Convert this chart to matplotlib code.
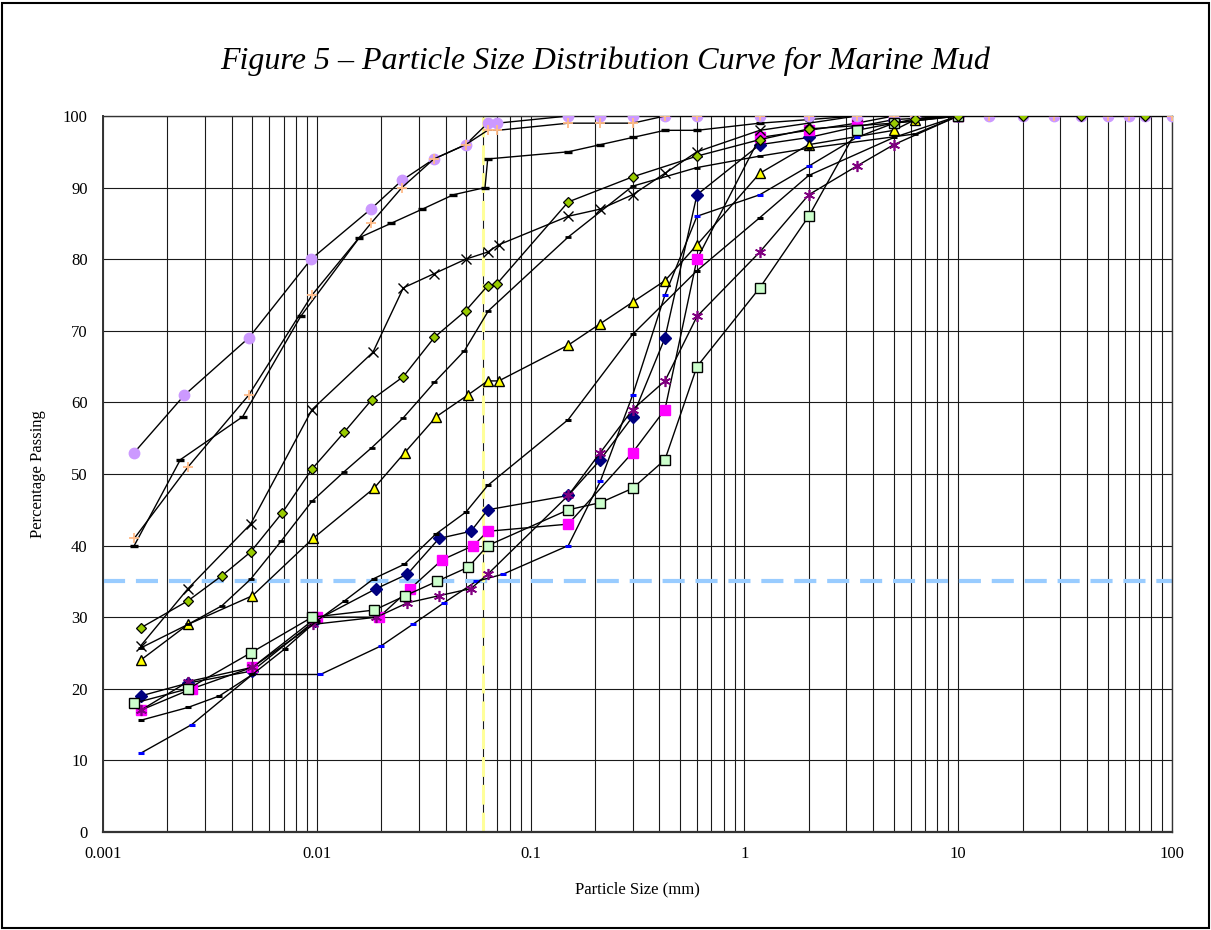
import matplotlib
matplotlib.use("Agg")
import matplotlib.pyplot as plt
from matplotlib.patches import Rectangle
from matplotlib.ticker import LogLocator, FuncFormatter, NullFormatter

plt.rcParams["font.family"] = ["Liberation Serif", "DejaVu Serif"]

# ---- data (size in mm, % passing) ----
tail = [10, 14, 20, 28, 37.5, 50, 63, 75, 100]

lav_x = [0.0014, 0.0024, 0.0048, 0.0094, 0.0179, 0.025, 0.0353, 0.0497, 0.063, 0.07,
         0.15, 0.212, 0.3, 0.425, 0.6, 1.18, 2, 3.35, 5, 6.3] + tail
lav_y = [53, 61, 69, 80, 87, 91, 94, 96, 99, 99,
         100, 100, 100, 100, 100, 100, 100, 100, 100, 100] + [100] * 9

plus_x = [0.0014, 0.0025, 0.0048, 0.0095, 0.0179, 0.025, 0.0353, 0.0497, 0.063, 0.07,
          0.15, 0.212, 0.3, 0.425, 0.6, 1.18, 2, 3.35, 5, 6.3] + tail
plus_y = [41, 51, 61, 75, 85, 90, 94, 96, 98, 98,
          99, 99, 99, 100, 100, 100, 100, 100, 100, 100] + [100] * 9

dashc_x = [0.0014, 0.0023, 0.0045, 0.0084, 0.0158, 0.0222, 0.0312, 0.0435, 0.0612, 0.063,
           0.15, 0.212, 0.3, 0.425, 0.6, 1.18, 2, 3.35, 5, 10]
dashc_y = [40, 52, 58, 72, 83, 85, 87, 89, 90, 94,
           95, 96, 97, 98, 98, 99, 99.5, 100, 100, 100]

xmark_x = [0.0015, 0.0025, 0.0049, 0.0095, 0.0183, 0.0254, 0.0355, 0.0497, 0.063, 0.0708,
           0.15, 0.212, 0.3, 0.425, 0.6, 1.18, 2, 3.35, 5, 10]
xmark_y = [26, 34, 43, 59, 67, 76, 78, 80, 81, 82,
           86, 87, 89, 92, 95, 98, 99, 100, 100, 100]

dashf_x = [0.0015, 0.0025, 0.0036, 0.0049, 0.0068, 0.0095, 0.0134, 0.0181, 0.0253, 0.0355,
           0.049, 0.0635, 0.15, 0.3, 0.6, 1.18, 2, 6.3, 10]
dashf_y = [25.7, 29, 31.6, 35.3, 40.6, 46.2, 50.3, 53.7, 57.8, 62.8,
           67.2, 72.8, 83.1, 90.2, 92.8, 94.4, 95.5, 97.5, 100]

dashg_x = [0.0015, 0.0025, 0.0035, 0.005, 0.0071, 0.01, 0.0135, 0.0185, 0.0257, 0.036,
           0.0499, 0.063, 0.15, 0.3, 0.6, 1.18, 2, 5, 10]
dashg_y = [15.6, 17.4, 19, 22, 25.6, 29.5, 32.3, 35.4, 37.4, 41.6,
           44.7, 48.4, 57.6, 69.5, 78.4, 85.8, 91.7, 97, 100]

blue_x = [0.0015, 0.0026, 0.005, 0.0104, 0.02, 0.0281, 0.0393, 0.0556, 0.0742, 0.15,
          0.212, 0.3, 0.425, 0.6, 1.18, 2, 3.35, 5, 10]
blue_y = [11, 15, 22, 22, 26, 29, 32, 35, 36, 40,
          49, 61, 75, 86, 89, 93, 97, 99, 100]

navy_x = [0.0015, 0.0025, 0.005, 0.0098, 0.019, 0.0265, 0.0373, 0.0526, 0.063, 0.15,
          0.212, 0.3, 0.425, 0.6, 1.18, 2, 3.35, 5, 10]
navy_y = [19, 20.8, 22.5, 29.5, 34, 36, 41, 42, 45, 47,
          52, 58, 69, 89, 96, 97, 98.5, 99.5, 100]

mag_x = [0.0015, 0.0026, 0.005, 0.01, 0.0195, 0.0274, 0.0385, 0.054, 0.063, 0.15,
         0.3, 0.425, 0.6, 1.18, 2, 3.35, 5, 10]
mag_y = [17, 20, 23, 30, 30, 34, 38, 40, 42, 43,
         53, 59, 80, 97, 98, 99, 100, 100]

lgreen_x = [0.0014, 0.0025, 0.0049, 0.0095, 0.0186, 0.0259, 0.0364, 0.0512, 0.063, 0.15,
            0.212, 0.3, 0.425, 0.6, 1.18, 2, 3.35, 5, 10]
lgreen_y = [18, 20, 25, 30, 31, 33, 35, 37, 40, 45,
            46, 48, 52, 65, 76, 86, 98, 99, 100]

star_x = [0.0015, 0.0025, 0.005, 0.0096, 0.019, 0.0265, 0.0373, 0.0526, 0.063, 0.15,
          0.212, 0.3, 0.425, 0.6, 1.18, 2, 3.35, 5, 10]
star_y = [17, 21, 23, 29, 30, 32, 33, 34, 36, 47,
          53, 59, 63, 72, 81, 89, 93, 96, 100]

tri_x = [0.0015, 0.0025, 0.005, 0.0096, 0.0185, 0.0258, 0.0362, 0.0507, 0.063, 0.071,
         0.15, 0.212, 0.3, 0.425, 0.6, 1.18, 2, 5, 6.3, 10]
tri_y = [24, 29, 33, 41, 48, 53, 58, 61, 63, 63,
         68, 71, 74, 77, 82, 92, 96, 98, 99.5, 100]

dia_x = [0.0015, 0.0025, 0.0036, 0.0049, 0.0069, 0.0095, 0.0134, 0.0181, 0.0254, 0.0355,
         0.0497, 0.063, 0.0693, 0.15, 0.3, 0.6, 1.18, 2, 5, 6.3, 10, 20, 37.5, 75]
dia_y = [28.5, 32.3, 35.8, 39.1, 44.6, 50.7, 55.8, 60.4, 63.6, 69.1,
         72.8, 76.3, 76.5, 88, 91.5, 94.4, 96.7, 98.2, 99, 99.6, 100, 100, 100, 100]

fines_limit = 35      # % passing, horizontal reference
silt_size = 0.06      # mm, vertical reference

x_ticks = [0.001, 0.01, 0.1, 1, 10, 100]
y_ticks = list(range(0, 101, 10))

# ---- figure ----
fig = plt.figure(figsize=(12.11, 9.30), dpi=100)
ax = fig.add_axes([103 / 1211, 1 - 832 / 930, (1172 - 103) / 1211, (832 - 116) / 930])

ax.set_xscale("log")
ax.set_xlim(0.001, 100)
ax.set_ylim(0, 100)
ax.set_xticks(x_ticks)
ax.xaxis.set_minor_locator(LogLocator(base=10, subs=range(2, 10)))
ax.xaxis.set_minor_formatter(NullFormatter())
ax.xaxis.set_major_formatter(FuncFormatter(lambda v, p: f"{v:g}"))
ax.set_yticks(y_ticks)
ax.grid(which="both", axis="x", color="#1a1a1a", linewidth=0.8)
ax.grid(which="major", axis="y", color="#1a1a1a", linewidth=0.8)
ax.set_axisbelow(True)
ax.tick_params(axis="x", which="both", length=0, pad=10, labelsize=12)
ax.tick_params(axis="y", which="both", length=0, pad=11, labelsize=12)
for sp in ax.spines.values():
    sp.set_color("#333333")
    sp.set_linewidth(1.0)
ax.spines["bottom"].set_linewidth(1.6)
ax.spines["left"].set_linewidth(1.4)

# reference lines
ax.axhline(fines_limit, color="#99CCFF", linewidth=3, linestyle=(0, (5.3, 2.6)), zorder=1.5)
ax.axvline(silt_size, color="#FFFF99", linewidth=2.2, linestyle=(0, (6.5, 2.6)), zorder=1.5)

line_kw = dict(color="black", linewidth=1.0, zorder=3)

ax.plot(navy_x, navy_y, marker="D", markersize=6, markerfacecolor="#000080",
        markeredgecolor="#000080", **line_kw)
ax.plot(mag_x, mag_y, marker="s", markersize=7.5, markerfacecolor="#FF00FF",
        markeredgecolor="#FF00FF", **line_kw)
ax.plot(tri_x, tri_y, marker="^", markersize=7, markerfacecolor="#FFFF00",
        markeredgecolor="black", markeredgewidth=1.0, **line_kw)
ax.plot(blue_x, blue_y, marker="_", markersize=4, markeredgecolor="#0000FF",
        markeredgewidth=2.2, **line_kw)
ax.plot(star_x, star_y, marker=(6, 2, 0), markersize=8, markeredgecolor="#800080",
        markeredgewidth=1.2, **line_kw)
ax.plot(dashg_x, dashg_y, marker="_", markersize=5, markeredgecolor="black",
        markeredgewidth=2.2, **line_kw)
ax.plot(dashf_x, dashf_y, marker="_", markersize=4, markeredgecolor="black",
        markeredgewidth=2.0, **line_kw)
ax.plot(dashc_x, dashc_y, marker="_", markersize=5.5, markeredgecolor="black",
        markeredgewidth=2.4, **line_kw)
ax.plot(xmark_x, xmark_y, marker="x", markersize=7, markeredgecolor="black",
        markeredgewidth=1.0, **line_kw)
ax.plot(lav_x, lav_y, marker="o", markersize=7.5, markerfacecolor="#CC99FF",
        markeredgecolor="#CC99FF", **line_kw)
ax.plot(plus_x, plus_y, marker="+", markersize=7.5, markeredgecolor="#FFBB88",
        markeredgewidth=1.3, **line_kw)
ax.plot(lgreen_x, lgreen_y, marker="s", markersize=7, markerfacecolor="#CCFFCC",
        markeredgecolor="black", markeredgewidth=1.0, **line_kw)
ax.plot(dia_x, dia_y, marker="D", markersize=5, markerfacecolor="#99CC00",
        markeredgecolor="black", markeredgewidth=0.9, **line_kw)

ax.set_xlabel("Particle Size (mm)", fontsize=12, labelpad=14)
ax.set_ylabel("Percentage Passing", fontsize=12, labelpad=12)

fig.text(0.5, 1 - 61 / 930, "Figure 5 \u2013 Particle Size Distribution Curve for Marine Mud",
         ha="center", va="center", fontsize=23, fontstyle="italic")

fig.patches.append(Rectangle((0.002, 0.002), 0.996, 0.995, transform=fig.transFigure,
                             fill=False, edgecolor="black", linewidth=1.5))

fig.savefig("out.png", dpi=100)
